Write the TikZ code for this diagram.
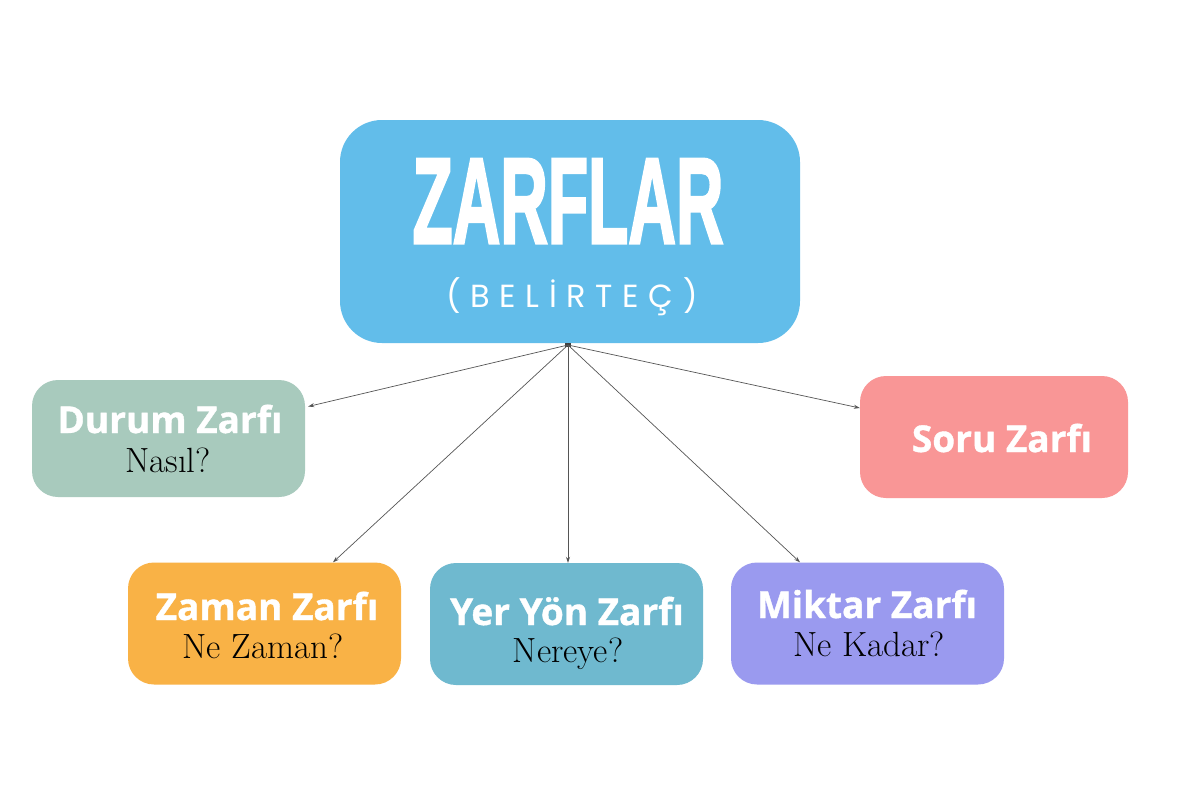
\documentclass[tikz,border=0pt]{standalone}
\usepackage{fontspec}
\usepackage{graphicx}
\usetikzlibrary{arrows.meta}
\newfontfamily\bigfont{Liberation Sans}[UprightFont={* Bold}, UprightFeatures={FakeBold=2.5}]
\newfontfamily\capfont{Poppins}[LetterSpace=30]
\newfontfamily\titlefont{Open Sans}[UprightFont={* Bold}, UprightFeatures={FakeBold=1}]
\definecolor{topblue}{HTML}{62BDEA}
\definecolor{durumc}{HTML}{A8CABD}
\definecolor{soruc}{HTML}{F99696}
\definecolor{zamanc}{HTML}{F9B246}
\definecolor{yerc}{HTML}{6FB9CF}
\definecolor{miktarc}{HTML}{9A9AEF}
\definecolor{linec}{HTML}{555555}
\tikzset{
  box/.style={rounded corners=26pt, inner sep=0pt, minimum width=273pt, minimum height=122pt},
  titletxt/.style={anchor=base, inner sep=0pt, text=white, font=\titlefont\fontsize{37}{42}\selectfont},
  subtxt/.style={anchor=base, inner sep=0pt, text=black, font=\rmfamily\fontsize{35}{40}\selectfont},
  conn/.style={draw=linec, line width=0.7pt, -{Stealth[length=6pt,width=4pt]}}
}
\begin{document}
\begin{tikzpicture}[x=1pt,y=-1pt]
\useasboundingbox (0,0) rectangle (1200,800);
\fill[white] (0,0) rectangle (1200,800);
% top box
\node[box, fill=topblue, minimum width=460pt, minimum height=223pt, rounded corners=42pt] (top) at (570,231.5) {};
\node[anchor=base, inner sep=0pt, text=white, font=\bigfont\fontsize{122}{130}\selectfont] (zarflar) at (568,243) {\scalebox{0.54}[1]{ZARFLAR}};
\node[anchor=base, inner sep=0pt, text=white, font=\capfont\fontsize{32}{36}\selectfont] (belirtec) at (572,307) {(BELİRTEÇ)};
% child boxes
\node[box, fill=durumc, minimum width=273pt, minimum height=117pt] (durum) at (168.5,438.5) {};
\node[box, fill=soruc, minimum width=268pt, minimum height=122pt] (soru) at (994,437) {};
\node[box, fill=zamanc] (zaman) at (264.5,623.5) {};
\node[box, fill=yerc] (yer) at (566.5,624) {};
\node[box, fill=miktarc] (miktar) at (867.5,623.5) {};
% texts
\node[titletxt] (durumT) at (170,433) {Durum Zarfı};
\node[subtxt] (durumS) at (168,472) {Nasıl?};
\node[titletxt] (soruT) at (1002,452) {Soru Zarfı};
\node[titletxt] (zamanT) at (267,620) {Zaman Zarfı};
\node[subtxt] (zamanS) at (263,658) {Ne Zaman?};
\node[titletxt] (yerT) at (567,625) {Yer Yön Zarfı};
\node[subtxt] (yerS) at (568,662) {Nereye?};
\node[titletxt] (miktarT) at (867,618) {Miktar Zarfı};
\node[subtxt] (miktarS) at (869,656) {Ne Kadar?};
% hub and connectors
\node[fill=black!75, minimum width=6pt, minimum height=4pt, inner sep=0pt] (hub) at (568,345) {};
\draw[conn] (hub.center) -- ([xshift=3pt,yshift=32pt]durum.east);
\draw[conn] (hub.center) -- ([yshift=29pt]soru.west);
\draw[conn] (hub.center) -- ([xshift=68.5pt]zaman.north);
\draw[conn] (hub.center) -- ([xshift=1.5pt]yer.north);
\draw[conn] (hub.center) -- ([xshift=-67.5pt]miktar.north);
\end{tikzpicture}
\end{document}
